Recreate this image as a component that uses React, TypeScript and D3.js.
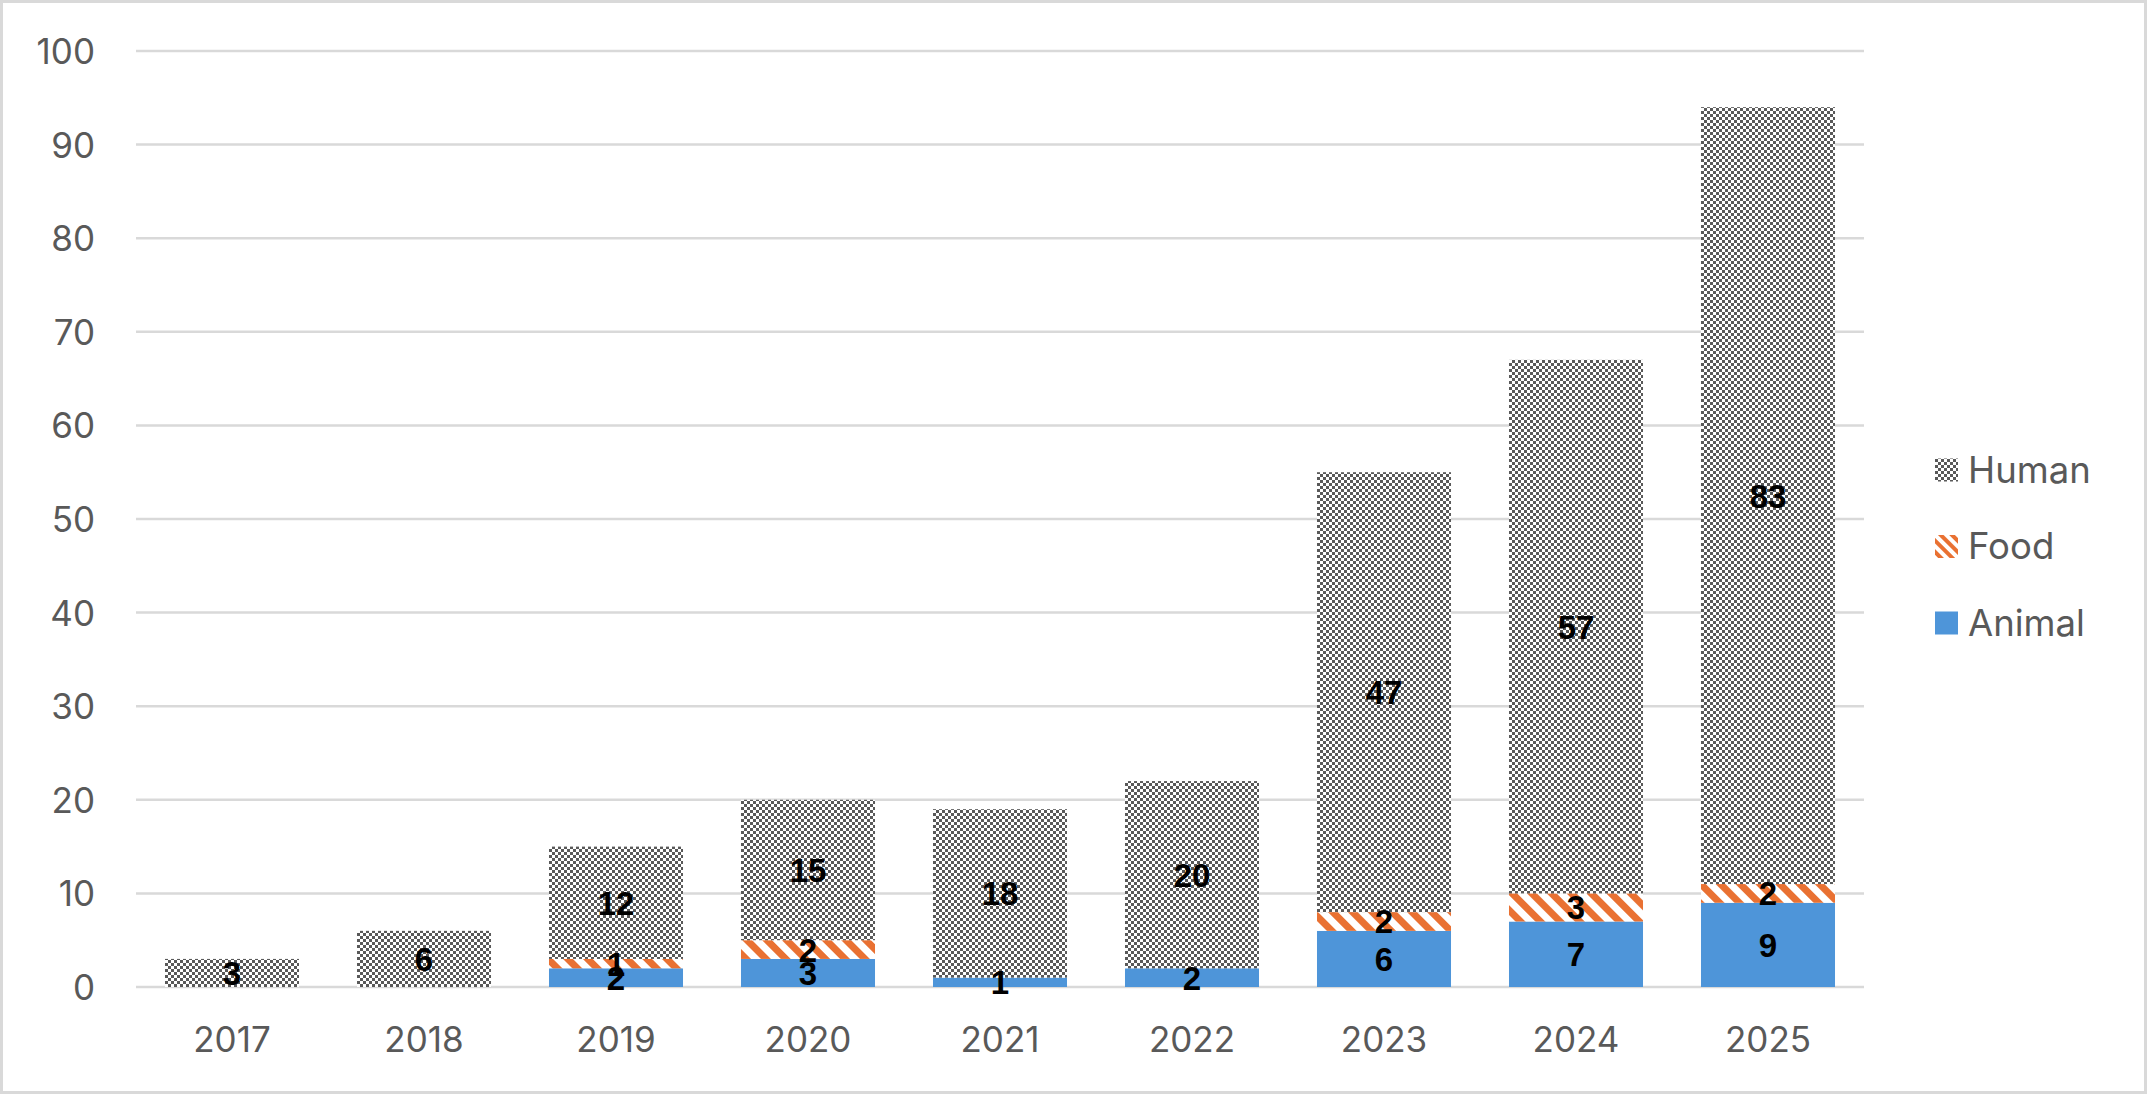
import * as d3 from "d3";

const years = ["2017", "2018", "2019", "2020", "2021", "2022", "2023", "2024", "2025"];
const animal = [0, 0, 2, 3, 1, 2, 6, 7, 9];
const food = [0, 0, 1, 2, 0, 0, 2, 3, 2];
const human = [3, 6, 12, 15, 18, 20, 47, 57, 83];
const yTicks = [0, 10, 20, 30, 40, 50, 60, 70, 80, 90, 100];

const WIDTH = 2147;
const HEIGHT = 1094;
const PLOT = { left: 136, right: 1864, top: 51, bottom: 987 };
const TEXT = "#595959";
const GRID = "#d9d9d9";
const BLUE = "#4e95d9";
const ORANGE = "#e97132";
const DARK = "#595959";
const AXIS_FONT = "Inter, 'Liberation Sans', sans-serif";
const LABEL_FONT = "'Liberation Sans', Arial, sans-serif";

type Seg = { key: string; fill: string; values: number[] };
const series: Seg[] = [
  { key: "Animal", fill: BLUE, values: animal },
  { key: "Food", fill: "url(#food)", values: food },
  { key: "Human", fill: "url(#human)", values: human },
];

export default function App() {
  const x = d3
    .scaleBand<string>()
    .domain(years)
    .range([PLOT.left, PLOT.right])
    .paddingInner(0.302)
    .paddingOuter(0.151);
  const y = d3.scaleLinear().domain([0, 100]).range([PLOT.bottom, PLOT.top]);

  const rows = years.map((year, i) => ({ year, Animal: animal[i], Food: food[i], Human: human[i] }));
  const stacked = d3.stack<(typeof rows)[number]>().keys(series.map((s) => s.key))(rows as any);

  const legend = [
    { key: "Human", fill: "url(#human)" },
    { key: "Food", fill: "url(#foodLegend)" },
    { key: "Animal", fill: BLUE },
  ];

  return (
    <svg
      width={WIDTH}
      height={HEIGHT}
      viewBox={`0 0 ${WIDTH} ${HEIGHT}`}
      style={{ position: "absolute", left: 0, top: 0, background: "#fff" }}
    >
      <defs>
        <pattern id="human" width={6} height={6} patternUnits="userSpaceOnUse">
          <rect width={6} height={6} fill="#fff" />
          <rect width={3} height={3} fill={DARK} />
          <rect x={3} y={3} width={3} height={3} fill={DARK} />
        </pattern>
        <pattern id="food" width={14} height={14} patternUnits="userSpaceOnUse" patternTransform="rotate(-45)">
          <rect width={14} height={14} fill="#fff" />
          <rect width={7} height={14} fill={ORANGE} />
        </pattern>
        <pattern id="foodLegend" width={8} height={8} patternUnits="userSpaceOnUse" patternTransform="rotate(-45)">
          <rect width={8} height={8} fill="#fff" />
          <rect width={4} height={8} fill={ORANGE} />
        </pattern>
      </defs>

      <rect x={1.5} y={1.5} width={WIDTH - 3} height={HEIGHT - 3} fill="#fff" stroke={GRID} strokeWidth={3} />

      {yTicks.map((t) => (
        <g key={t}>
          <line x1={PLOT.left} x2={PLOT.right} y1={y(t)} y2={y(t)} stroke={GRID} strokeWidth={2.5} />
          <text
            x={95}
            y={y(t) + 13}
            textAnchor="end"
            fill={TEXT}
            fontSize={35}
            fontFamily={AXIS_FONT}
          >
            {t}
          </text>
        </g>
      ))}

      {stacked.map((layer, li) => (
        <g key={layer.key}>
          {layer.map((d, i) =>
            d[1] - d[0] > 0 ? (
              <rect
                key={years[i]}
                x={x(years[i])}
                y={y(d[1])}
                width={x.bandwidth()}
                height={y(d[0]) - y(d[1])}
                fill={series[li].fill}
              />
            ) : null,
          )}
        </g>
      ))}

      {stacked.map((layer) => (
        <g key={`lbl-${layer.key}`}>
          {layer.map((d, i) =>
            d[1] - d[0] > 0 ? (
              <text
                key={years[i]}
                x={(x(years[i]) ?? 0) + x.bandwidth() / 2}
                y={y((d[0] + d[1]) / 2) + 12}
                textAnchor="middle"
                fontSize={33}
                fontWeight="bold"
                fontFamily={LABEL_FONT}
                fill="#000"
              >
                {d[1] - d[0]}
              </text>
            ) : null,
          )}
        </g>
      ))}

      {years.map((yr) => (
        <text
          key={yr}
          x={(x(yr) ?? 0) + x.bandwidth() / 2}
          y={1052}
          textAnchor="middle"
          fill={TEXT}
          fontSize={35}
          fontFamily={AXIS_FONT}
        >
          {yr}
        </text>
      ))}

      {legend.map((l, i) => {
        const cy = 470 + i * 76.5;
        return (
          <g key={l.key}>
            <rect x={1935} y={cy - 11.5} width={23} height={23} fill={l.fill} />
            <text x={1968} y={cy + 12.5} fill={TEXT} fontSize={36.5} fontFamily={AXIS_FONT}>
              {l.key}
            </text>
          </g>
        );
      })}
    </svg>
  );
}
